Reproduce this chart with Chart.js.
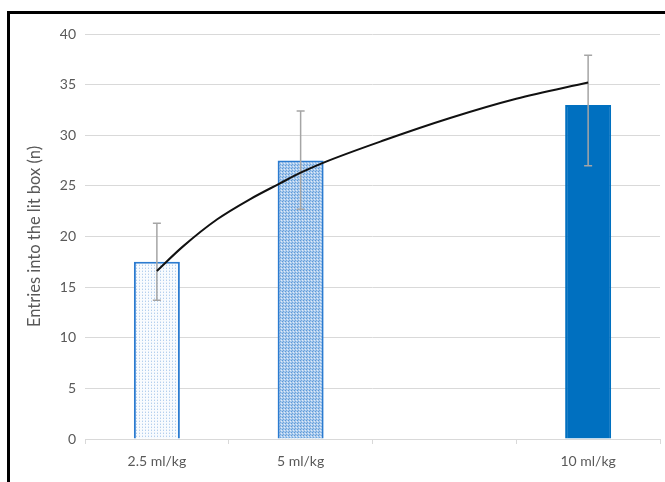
<!DOCTYPE html>
<html>
<head>
<meta charset="utf-8">
<script src="https://cdn.jsdelivr.net/npm/chart.js@4"></script>
<style>
  body { margin: 0; background: #fff; }
  #wrap { position: relative; width: 665px; height: 482px; overflow: hidden; }
  #frame { position: absolute; left: 7px; top: 11px; width: 700px; height: 520px; border: 3px solid #000; box-sizing: border-box; }
  canvas { position: absolute; left: 0; top: 0; }
</style>
</head>
<body>
<div id="wrap">
  <div id="frame"></div>
  <canvas id="chart" width="665" height="482"></canvas>
</div>
<script>
// categories (third slot is empty in the original)
const doses = ["2.5 ml/kg", "5 ml/kg", "", "10 ml/kg"];
const entries = [17.5, 27.5, null, 33];
const errUpper = [21.3, 32.4, null, 37.9];
const errLower = [13.7, 22.7, null, 27.0];

// trendline (x in category units, 1 = first bar)
const trendX = [1.0, 1.18, 1.42, 1.65, 1.85, 2.0, 2.16, 2.58, 3.04, 3.5, 4.0];
const trendY = [16.6, 19.0, 21.7, 23.7, 25.2, 26.3, 27.3, 29.5, 31.7, 33.6, 35.2];

const yTicks = [0, 5, 10, 15, 20, 25, 30, 35, 40];

const textColor = "#595959";
const gridColor = "#d9d9d9";
const fontFamily = "Lato, 'Open Sans', sans-serif";

function makePattern(w, h, bg, dots) {
  const c = document.createElement("canvas");
  c.width = w; c.height = h;
  const g = c.getContext("2d");
  g.fillStyle = bg;
  g.fillRect(0, 0, w, h);
  dots.forEach(d => {
    g.fillStyle = d[2];
    g.fillRect(d[0], d[1], 1, 1);
  });
  return g.createPattern(c, "repeat");
}

const lightDots = makePattern(3, 3, "#f8fbfe", [[1, 1, "#b3cfee"], [1, 0, "#dde9f7"]]);
const denseDots = makePattern(3, 3, "#a9c9ec", [[0, 0, "#5b99d8"], [2, 1, "#e1ecf8"], [1, 2, "#6ea6de"]]);

const errorBars = {
  id: "errorBars",
  afterDatasetDraw(chart, args) {
    if (args.index !== 0) return;
    const ctx = chart.ctx;
    const x = chart.scales.x, y = chart.scales.y;
    ctx.save();
    ctx.strokeStyle = "#a5a5a5";
    ctx.lineWidth = 1.5;
    entries.forEach((v, i) => {
      if (v === null) return;
      const px = x.getPixelForValue(i);
      const top = y.getPixelForValue(errUpper[i]);
      const bot = y.getPixelForValue(errLower[i]);
      ctx.beginPath();
      ctx.moveTo(px, top); ctx.lineTo(px, bot);
      ctx.moveTo(px - 4, top); ctx.lineTo(px + 4, top);
      ctx.moveTo(px - 4, bot); ctx.lineTo(px + 4, bot);
      ctx.stroke();
    });
    ctx.restore();
  }
};

new Chart(document.getElementById("chart"), {
  type: "bar",
  data: {
    labels: doses,
    datasets: [{
      type: "bar",
      data: entries,
      order: 1,
      xAxisID: "x",
      grouped: false,
      backgroundColor: [lightDots, denseDots, "#fff", "#0070c0"],
      borderColor: ["#2b7bd0", "#2b7bd0", "#fff", "#0070c0"],
      borderWidth: 2,
      barPercentage: 0.32,
      categoryPercentage: 1
    }, {
      type: "line",
      data: trendX.map((v, i) => ({ x: v, y: trendY[i] })),
      order: 0,
      xAxisID: "xl",
      borderColor: "#111",
      borderWidth: 2,
      pointRadius: 0,
      fill: false,
      cubicInterpolationMode: "monotone"
    }]
  },
  options: {
    responsive: false,
    devicePixelRatio: 1,
    animation: false,
    layout: { padding: { top: 34, right: 5, bottom: 0, left: 0 } },
    plugins: { legend: { display: false }, tooltip: { enabled: false } },
    scales: {
      x: {
        type: "category",
        offset: true,
        afterFit: s => { s.height = 43; },
        grid: { offset: true, drawOnChartArea: false, drawTicks: true, tickLength: 5, color: gridColor },
        border: { color: gridColor },
        ticks: { color: textColor, font: { family: fontFamily, size: 14 }, padding: 9, maxRotation: 0 }
      },
      xl: {
        type: "linear",
        display: false,
        offset: false,
        min: 0.5,
        max: 4.5
      },
      y: {
        min: 0,
        max: 40,
        afterFit: s => { s.width = 85; },
        afterBuildTicks: s => { s.ticks = yTicks.map(v => ({ value: v })); },
        grid: { color: gridColor, drawTicks: false },
        border: { display: false },
        ticks: { color: textColor, font: { family: fontFamily, size: 14 }, padding: 9 },
        title: {
          display: true,
          text: "Entries into the lit box (n)",
          color: textColor,
          font: { family: fontFamily, size: 16.5 },
          padding: { top: 25, bottom: 0 }
        }
      }
    }
  },
  plugins: [errorBars]
});
</script>
</body>
</html>
